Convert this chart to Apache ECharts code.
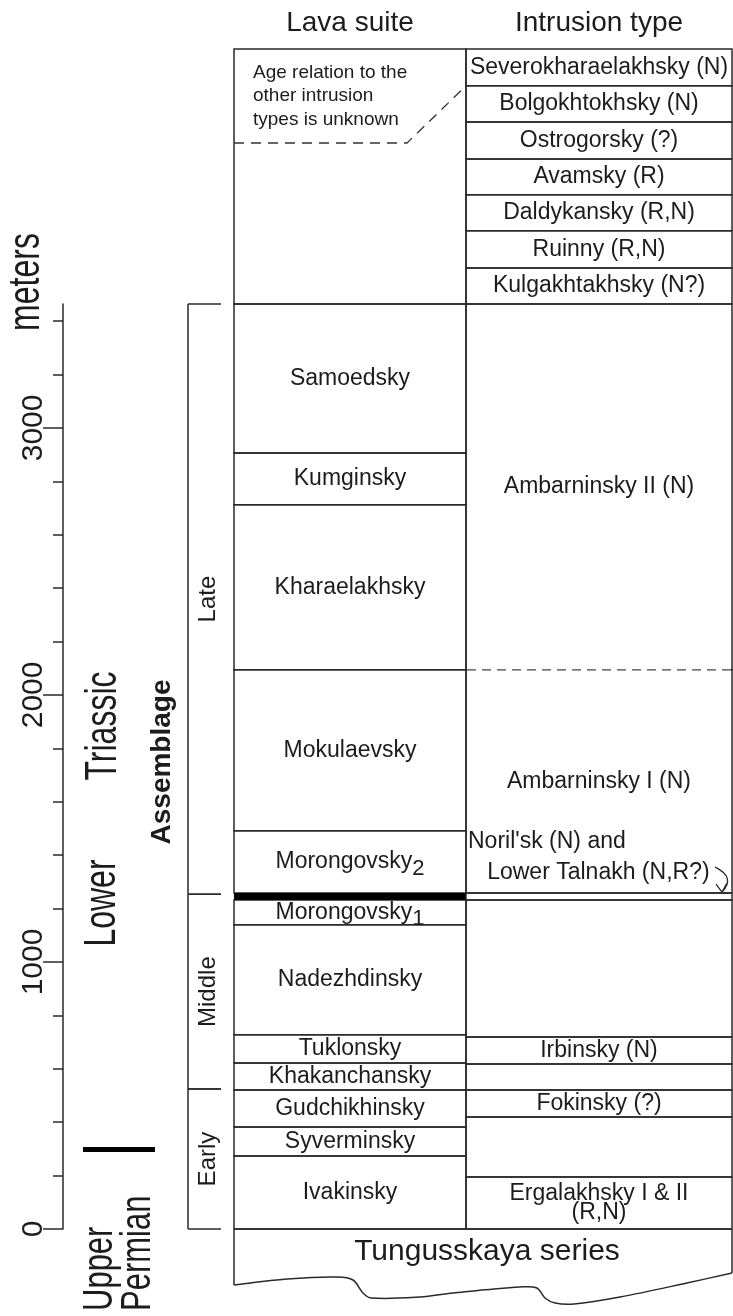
<!DOCTYPE html>
<html>
<head>
<meta charset="utf-8">
<script src="https://cdn.jsdelivr.net/npm/echarts@6/dist/echarts.min.js"></script>
<style>
  html, body { margin: 0; padding: 0; background: #fff; }
  #StratChart { width: 733px; height: 1316px; }
</style>
</head>
<body>
<div id="StratChart"></div>
<script>
// lava suites, bottom to top (meters above the base of the section)
const lavaSuites = ['Ivakinsky', 'Syverminsky', 'Gudchikhinsky', 'Khakanchansky', 'Tuklonsky', 'Nadezhdinsky',
  'Morongovsky{sub|1}', 'Morongovsky{sub|2}', 'Mokulaevsky', 'Kharaelakhsky', 'Kumginsky', 'Samoedsky'];
const lavaBase = [0, 273, 382, 521, 622, 727, 1139, 1258, 1491, 2094, 2712, 2906];
const lavaTop = [273, 382, 521, 622, 727, 1139, 1232, 1491, 2094, 2712, 2906, 3464];
const boundaryBand = [1232, 1258];

// intrusion types, bottom to top
const intrusionTypes = ['Ergalakhsky I & II\n(R,N)', '', 'Fokinsky (?)', '', 'Irbinsky (N)', '',
  "Noril'sk (N) and\n   Lower Talnakh (N,R?)", 'Ambarninsky I (N)', 'Ambarninsky II (N)',
  'Kulgakhtakhsky (N?)', 'Ruinny (R,N)', 'Daldykansky (R,N)', 'Avamsky (R)', 'Ostrogorsky (?)',
  'Bolgokhtokhsky (N)', 'Severokharaelakhsky (N)'];
const intrusionBase = [0, 195, 419, 521, 618, 719, 1232, 1258, 2094, 3464, 3599, 3738, 3873, 4007, 4146, 4281];
const intrusionTop = [195, 419, 521, 618, 719, 1232, 1258, 2094, 3464, 3599, 3738, 3873, 4007, 4146, 4281, 4419];
const dashedLevels = [2094];

const assemblages = ['Early', 'Middle', 'Late'];
const assemblageBase = [0, 524, 1254];
const assemblageTop = [524, 1254, 3464];

const majorTicks = [0, 1000, 2000, 3000];
const minorTicks = [200, 400, 600, 800, 1200, 1400, 1600, 1800, 2200, 2400, 2600, 2800, 3200, 3400];

const unknownAgeTop = 4419;
const unknownAgeLevel = 4067;
const unknownAgeNote = 'Age relation to the\nother intrusion\ntypes is unknown';
const permianTriassic = 298;
const basement = 'Tungusskaya series';

const LINE = '#2a2a2a';
const TEXT = '#1c1c1c';
const FONT = '"Liberation Sans", Arial, Helvetica, sans-serif';

const chart = echarts.init(document.getElementById('StratChart'));

const colBox = (api, base, top) => {
  const b = api.coord([0, base]);
  const t = api.coord([0, top]);
  const w = api.size([1, 0])[0];
  return { x0: b[0] - w / 2, cx: b[0], w: w, yb: b[1], yt: t[1] };
};

const renderLava = (params, api) => {
  const i = params.dataIndex;
  const k = colBox(api, api.value(1), api.value(2));
  return {
    type: 'group',
    children: [
      { type: 'rect', shape: { x: k.x0, y: k.yt, width: k.w, height: k.yb - k.yt },
        style: { fill: 'none', stroke: LINE, lineWidth: 1.5 } },
      { type: 'text', x: k.cx, y: (k.yb + k.yt) / 2,
        style: { text: lavaSuites[i], fill: TEXT, fontSize: 23, fontFamily: FONT, align: 'center', verticalAlign: 'middle',
          rich: { sub: { fontSize: 22, fontFamily: FONT, fill: TEXT, padding: [14, 0, 0, 0] } } } }
    ]
  };
};

const renderBand = (params, api) => {
  const k = colBox(api, api.value(1), api.value(2));
  return { type: 'rect', shape: { x: k.x0, y: k.yt, width: k.w, height: k.yb - k.yt }, style: { fill: '#000' } };
};

const renderIntrusion = (params, api) => {
  const i = params.dataIndex;
  const k = colBox(api, api.value(1), api.value(2));
  const name = intrusionTypes[i];
  const children = [
    { type: 'rect', shape: { x: k.x0, y: k.yt, width: k.w, height: k.yb - k.yt },
      style: { fill: 'none', stroke: LINE, lineWidth: 1.5 } }
  ];
  if (name.indexOf("Noril'sk") === 0) {
    // label sits above the thin sill, with a little curved arrow
    children.push({ type: 'text', x: k.x0 + 2, y: k.yt - 5,
      style: { text: name, fill: TEXT, fontSize: 23, fontFamily: FONT, lineHeight: 31, align: 'left', verticalAlign: 'bottom' } });
    const ax = k.x0 + k.w;
    children.push({ type: 'path', shape: { pathData:
      'M' + (ax - 17) + ' ' + (k.yt - 26) + ' Q' + (ax + 4) + ' ' + (k.yt - 16) + ' ' + (ax - 10) + ' ' + (k.yt - 1) +
      ' M' + (ax - 16) + ' ' + (k.yt - 9) + ' L' + (ax - 10) + ' ' + (k.yt - 1) + ' L' + (ax - 5) + ' ' + (k.yt - 10) },
      style: { fill: 'none', stroke: LINE, lineWidth: 1.3 } });
  } else if (name) {
    children.push({ type: 'text', x: k.cx, y: (k.yb + k.yt) / 2,
      style: { text: name, fill: TEXT, fontSize: 23, fontFamily: FONT, lineHeight: 19, align: 'center', verticalAlign: 'middle' } });
  }
  return { type: 'group', children };
};

const renderDashed = (params, api) => {
  const k = colBox(api, api.value(1), api.value(1));
  return {
    type: 'group',
    children: [
      { type: 'line', shape: { x1: k.x0 + 1, y1: k.yb, x2: k.x0 + k.w - 1, y2: k.yb }, style: { stroke: '#fff', lineWidth: 3 } },
      { type: 'line', shape: { x1: k.x0 + 1, y1: k.yb, x2: k.x0 + k.w - 1, y2: k.yb }, style: { stroke: '#444', lineWidth: 1.4, lineDash: [9, 6] } }
    ]
  };
};

const renderAssemblage = (params, api) => {
  const i = params.dataIndex;
  const k = colBox(api, api.value(1), api.value(2));
  const bx = k.x0 - 46;
  const tx = k.x0 - 13;
  return {
    type: 'group',
    children: [
      { type: 'line', shape: { x1: bx, y1: k.yb, x2: bx, y2: k.yt }, style: { stroke: LINE, lineWidth: 1.5 } },
      { type: 'line', shape: { x1: bx, y1: k.yb, x2: tx, y2: k.yb }, style: { stroke: LINE, lineWidth: 1.5 } },
      { type: 'line', shape: { x1: bx, y1: k.yt, x2: tx, y2: k.yt }, style: { stroke: LINE, lineWidth: 1.5 } },
      { type: 'text', x: k.x0 - 26, y: (k.yb + k.yt) / 2, rotation: Math.PI / 2,
        style: { text: assemblages[i], fill: TEXT, fontSize: 24, fontFamily: FONT, align: 'center', verticalAlign: 'middle' } }
    ]
  };
};

const renderUnknown = (params, api) => {
  const k = colBox(api, api.value(1), api.value(2));
  const yNote = api.coord([0, unknownAgeLevel])[1];
  const yLink = api.coord([0, intrusionBase[intrusionBase.length - 1]])[1];
  return {
    type: 'group',
    children: [
      { type: 'rect', shape: { x: k.x0, y: k.yt, width: k.w, height: k.yb - k.yt },
        style: { fill: 'none', stroke: LINE, lineWidth: 1.5 } },
      { type: 'text', x: k.x0 + 19, y: k.yt + 12,
        style: { text: unknownAgeNote, fill: TEXT, fontSize: 19, fontFamily: FONT, lineHeight: 23.5, align: 'left', verticalAlign: 'top' } },
      { type: 'polyline', shape: { points: [[k.x0, yNote], [k.x0 + 173, yNote], [k.x0 + k.w, yLink]] },
        style: { fill: 'none', stroke: '#333', lineWidth: 1.3, lineDash: [10, 7] } }
    ]
  };
};

const renderPermian = (params, api) => {
  const k = colBox(api, api.value(1), api.value(1));
  return { type: 'rect', shape: { x: k.x0 - 151, y: k.yb - 2.5, width: 72, height: 5 }, style: { fill: '#000' } };
};

const renderBasement = (params, api) => {
  const k = colBox(api, api.value(1), api.value(1));
  const W = 498;
  const wave = [[0, 56], [53, 50], [103, 48], [119, 51], [129, 64], [137, 69], [186, 68], [219, 64], [286, 58],
    [303, 59], [311, 69], [321, 74], [340, 75], [386, 68], [453, 54], [W, 44]];
  return {
    type: 'group',
    children: [
      { type: 'line', shape: { x1: k.x0, y1: k.yb, x2: k.x0 + W, y2: k.yb }, style: { stroke: LINE, lineWidth: 1.5 } },
      { type: 'line', shape: { x1: k.x0, y1: k.yb, x2: k.x0, y2: k.yb + 56 }, style: { stroke: LINE, lineWidth: 1.5 } },
      { type: 'line', shape: { x1: k.x0 + W, y1: k.yb, x2: k.x0 + W, y2: k.yb + 44 }, style: { stroke: LINE, lineWidth: 1.5 } },
      { type: 'polyline', shape: { points: wave.map(p => [k.x0 + p[0], k.yb + p[1]]), smooth: 0.35 },
        style: { fill: 'none', stroke: LINE, lineWidth: 1.5 } },
      { type: 'text', x: k.x0 + 253, y: k.yb + 23,
        style: { text: basement, fill: TEXT, fontSize: 30, fontFamily: FONT, align: 'center', verticalAlign: 'middle' } }
    ]
  };
};

const sideText = (text, x, y, opts) => Object.assign({
  type: 'text', x: x, y: y, rotation: Math.PI / 2, scaleY: 1.4,
  style: { text: text, fill: TEXT, fontSize: 32, fontFamily: FONT, textAlign: 'center', textVerticalAlign: 'middle' }
}, opts || {});

const yRange = { min: 0, max: 3464 };

const option = {
  animation: false,
  backgroundColor: '#fff',
  grid: [
    { left: 234, width: 232, top: 304, bottom: 87 },
    { left: 466, width: 266, top: 304, bottom: 87 }
  ],
  xAxis: [
    { gridIndex: 0, type: 'category', data: ['Lava suite'], position: 'top', offset: 255,
      axisLine: { show: false }, axisTick: { show: false },
      axisLabel: { margin: 12, fontSize: 28, fontFamily: FONT, color: TEXT } },
    { gridIndex: 1, type: 'category', data: ['Intrusion type'], position: 'top', offset: 255,
      axisLine: { show: false }, axisTick: { show: false },
      axisLabel: { margin: 12, fontSize: 28, fontFamily: FONT, color: TEXT } }
  ],
  yAxis: [
    { gridIndex: 0, type: 'value', ...yRange, position: 'left', offset: 171,
      axisLine: { show: true, lineStyle: { color: LINE, width: 1.5 } },
      axisTick: { show: true, length: 20, customValues: majorTicks, lineStyle: { color: LINE, width: 1.5 } },
      axisLabel: { show: true, customValues: majorTicks, rotate: 90, margin: 14, fontSize: 30, fontFamily: FONT, color: TEXT,
        formatter: v => String(v) },
      splitLine: { show: false } },
    { gridIndex: 0, type: 'value', ...yRange, position: 'left', offset: 171,
      axisLine: { show: false },
      axisTick: { show: true, length: 10, customValues: minorTicks, lineStyle: { color: LINE, width: 1.5 } },
      axisLabel: { show: false }, splitLine: { show: false } },
    { gridIndex: 1, type: 'value', ...yRange, show: false, splitLine: { show: false } }
  ],
  graphic: [
    sideText('meters', 27, 282),
    sideText('Triassic', 104, 726),
    sideText('Lower', 103, 903),
    sideText('Upper\nPermian', 119, 1311, { style: { text: 'Upper\nPermian', fill: TEXT, fontSize: 31, lineHeight: 27, fontFamily: FONT, textAlign: 'left', textVerticalAlign: 'middle' } }),
    sideText('Assemblage', 162, 762, { scaleY: 1, style: { text: 'Assemblage', fill: TEXT, fontSize: 28, fontWeight: 'bold', fontFamily: FONT, textAlign: 'center', textVerticalAlign: 'middle' } })
  ],
  series: [
    { type: 'custom', name: 'Basement', xAxisIndex: 0, yAxisIndex: 0, clip: false, renderItem: renderBasement,
      data: [[0, 0]] },
    { type: 'custom', name: 'Unknown', xAxisIndex: 0, yAxisIndex: 0, clip: false, renderItem: renderUnknown,
      data: [[0, lavaTop[lavaTop.length - 1], unknownAgeTop]] },
    { type: 'custom', name: 'Lava', xAxisIndex: 0, yAxisIndex: 0, clip: false, renderItem: renderLava,
      data: lavaSuites.map((n, i) => [0, lavaBase[i], lavaTop[i]]) },
    { type: 'custom', name: 'Band', xAxisIndex: 0, yAxisIndex: 0, clip: false, renderItem: renderBand,
      data: [[0, boundaryBand[0], boundaryBand[1]]] },
    { type: 'custom', name: 'Intrusion', xAxisIndex: 1, yAxisIndex: 2, clip: false, renderItem: renderIntrusion,
      data: intrusionTypes.map((n, i) => [0, intrusionBase[i], intrusionTop[i]]) },
    { type: 'custom', name: 'Dashed', xAxisIndex: 1, yAxisIndex: 2, clip: false, renderItem: renderDashed, z: 3,
      data: dashedLevels.map(v => [0, v]) },
    { type: 'custom', name: 'Assemblage', xAxisIndex: 0, yAxisIndex: 0, clip: false, renderItem: renderAssemblage,
      data: assemblages.map((n, i) => [0, assemblageBase[i], assemblageTop[i]]) },
    { type: 'custom', name: 'Permian', xAxisIndex: 0, yAxisIndex: 0, clip: false, renderItem: renderPermian,
      data: [[0, permianTriassic]] }
  ]
};

chart.setOption(option);
</script>
</body>
</html>
